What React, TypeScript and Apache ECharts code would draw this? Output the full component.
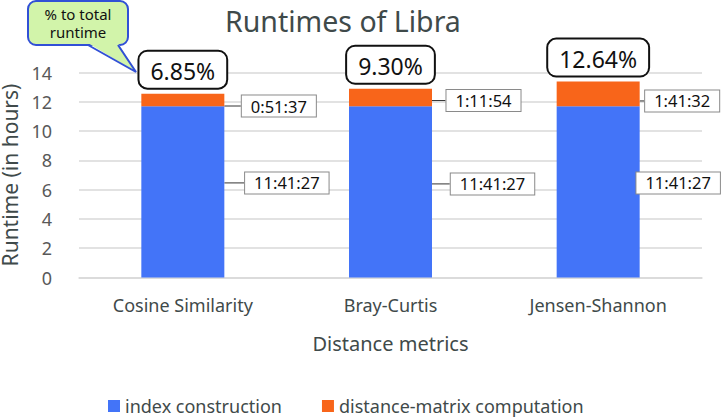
import React, { useEffect, useRef } from "react";
import * as echarts from "echarts";

const categories = ["Cosine Similarity", "Bray-Curtis", "Jensen-Shannon"];
const indexTimes = ["11:41:27", "11:41:27", "11:41:27"];
const distTimes = ["0:51:37", "1:11:54", "1:41:32"];
const pctLabels = ["6.85%", "9.30%", "12.64%"];
const yTicks = { min: 0, max: 14, interval: 2 };
const seriesNames = ["index construction", "distance-matrix computation"];

const toHours = (t: string) => {
  const [h, m, s] = t.split(":").map(Number);
  return h + m / 60 + s / 3600;
};
const indexValues = indexTimes.map(toHours);
const distValues = distTimes.map(toHours);

// label placement offsets (layout, not data)
const blueOffsets = [[104, -9], [102, -8], [80, -9]];
const orangeOffsets = [[96, 6], [93, 3], [84, 7]];

const FONT = "Noto Sans";
const BLUE = "#4374F8";
const ORANGE = "#F8651A";

const timeLabel = (arr: string[]) => ({
  show: true,
  position: "inside" as const,
  formatter: (p: any) => arr[p.dataIndex],
  fontFamily: FONT,
  fontSize: 16.5,
  color: "#111",
  backgroundColor: "#fff",
  borderColor: "#8a8a8a",
  borderWidth: 1,
  padding: [2, 9, 1, 9],
  lineHeight: 18,
});

export default function App() {
  const ref = useRef<HTMLDivElement>(null);
  useEffect(() => {
    if (!ref.current) return;
    const chart = echarts.init(ref.current, null, { renderer: "svg" });
    chart.setOption({
      animation: false,
      backgroundColor: "#fff",
      textStyle: { fontFamily: FONT },
      title: {
        text: "Runtimes of Libra",
        left: 225,
        top: 6,
        padding: 0,
        textStyle: { fontFamily: FONT, fontSize: 28.5, fontWeight: "normal", color: "#3F4A4A" },
      },
      grid: {
        left: 79,
        right: 22,
        top: 72.5,
        bottom: 139.5,
        containLabel: false,
        outerBoundsMode: "none",
      },
      legend: {
        data: seriesNames,
        left: 108,
        top: 396,
        padding: 0,
        itemWidth: 12,
        itemHeight: 12,
        itemGap: 40,
        icon: "rect",
        textStyle: { fontFamily: FONT, fontSize: 18, lineHeight: 20, color: "#3F4A4A" },
      },
      xAxis: {
        type: "category",
        data: categories,
        name: "Distance metrics",
        nameLocation: "middle",
        nameGap: 56,
        nameTextStyle: { fontFamily: FONT, fontSize: 20, color: "#3F4A4A" },
        axisLine: { lineStyle: { color: "#d9d9d9", width: 1.5 } },
        axisTick: { show: false },
        axisLabel: { fontFamily: FONT, fontSize: 18, color: "#3F4A4A", margin: 18 },
      },
      yAxis: {
        type: "value",
        min: yTicks.min,
        max: yTicks.max,
        interval: yTicks.interval,
        name: "Runtime (in hours)",
        nameLocation: "middle",
        nameGap: 47,
        nameTextStyle: { fontFamily: FONT, fontSize: 21, lineHeight: 22, color: "#3F4A4A" },
        axisLine: { show: false },
        axisTick: { show: false },
        axisLabel: { fontFamily: FONT, fontSize: 18, color: "#595959", margin: 27 },
        splitLine: { lineStyle: { color: "#d9d9d9", width: 1.5 } },
      },
      series: [
        {
          name: seriesNames[0],
          type: "bar",
          stack: "total",
          barWidth: 83,
          data: indexValues,
          itemStyle: { color: BLUE },
          label: timeLabel(indexTimes),
          labelLayout: (p: any) => ({ dx: blueOffsets[p.dataIndex][0], dy: blueOffsets[p.dataIndex][1] }),
          labelLine: { show: true, lineStyle: { color: "#333", width: 1 } },
        },
        {
          name: seriesNames[1],
          type: "bar",
          stack: "total",
          barWidth: 83,
          data: distValues,
          itemStyle: { color: ORANGE },
          label: timeLabel(distTimes),
          labelLayout: (p: any) => ({ dx: orangeOffsets[p.dataIndex][0], dy: orangeOffsets[p.dataIndex][1] }),
          labelLine: { show: true, lineStyle: { color: "#333", width: 1 } },
        },
        {
          name: "pct",
          type: "bar",
          stack: "total",
          barWidth: 83,
          data: categories.map(() => 0),
          itemStyle: { color: "transparent" },
          silent: true,
          label: {
            show: true,
            position: "top",
            distance: 6,
            formatter: (p: any) => pctLabels[p.dataIndex],
            fontFamily: FONT,
            fontSize: 23,
            color: "#111",
            backgroundColor: "#fff",
            borderColor: "#111",
            borderWidth: 2,
            borderRadius: 8,
            padding: [5, 11, 3, 11],
            lineHeight: 28,
          },
        },
      ],
      graphic: [
        {
          type: "rect",
          shape: { x: 28, y: 1, width: 100, height: 44, r: 8 },
          style: { fill: "#D2F4AA", stroke: "#3150D6", lineWidth: 2 },
          z: 10,
        },
        {
          type: "polygon",
          shape: { points: [[88, 43], [118, 43], [136, 72]] },
          style: { fill: "#D2F4AA", stroke: "none" },
          z: 11,
        },
        {
          type: "polyline",
          shape: { points: [[88, 45], [136, 72], [118, 45]] },
          style: { stroke: "#3150D6", lineWidth: 2, fill: "none" },
          z: 11,
        },
        {
          type: "text",
          x: 78,
          y: 23,
          style: {
            text: "% to total\nruntime",
            fontFamily: FONT,
            fontSize: 15,
            lineHeight: 18,
            fill: "#111",
            align: "center",
            verticalAlign: "middle",
          },
          z: 12,
        },
      ],
    });
    return () => chart.dispose();
  }, []);
  return <div ref={ref} style={{ width: 724, height: 417, position: "absolute", left: 0, top: 0 }} />;
}
